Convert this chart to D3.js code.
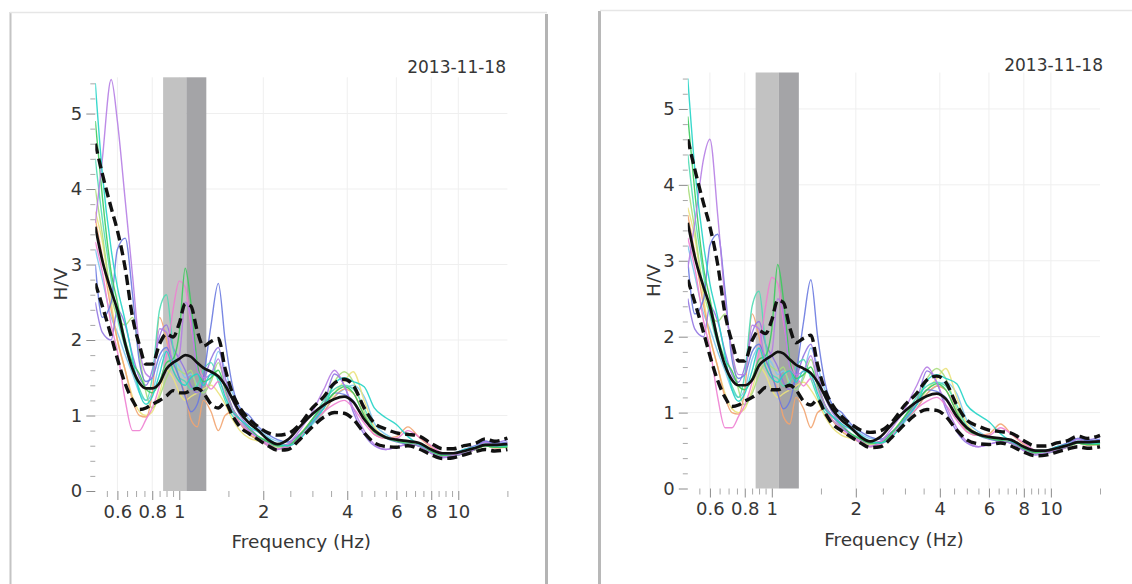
<!DOCTYPE html>
<html lang="en">
<head>
<meta charset="UTF-8">
<title>H/V curves 2013-11-18</title>
<script src="https://cdn.jsdelivr.net/npm/d3@7"></script>
<style>
  html, body { margin: 0; padding: 0; background: #fff; }
  body { width: 1132px; height: 584px; overflow: hidden; }
  svg text { font-family: "DejaVu Sans", Verdana, sans-serif; fill: #363636; }
</style>
</head>
<body>
<svg id="chart" width="1132" height="584"></svg>
<script>
// frequency samples (Hz)
var freqHz = [0.5, 0.53, 0.57, 0.6, 0.64, 0.68, 0.72, 0.76, 0.8, 0.85,
  0.9, 0.95, 1.0, 1.05, 1.1, 1.16, 1.22, 1.3, 1.38, 1.46,
  1.55, 1.65, 1.78, 1.92, 2.08, 2.25, 2.45, 2.7, 3.0, 3.3,
  3.6, 3.9, 4.2, 4.6, 5.0, 5.5, 6.0, 6.6, 7.2, 8.0,
  8.8, 9.6, 10.5, 11.5, 12.5, 13.5, 15];

// average H/V and +/- one standard deviation
var meanHV = [3.5, 3.05, 2.65, 2.4, 1.95, 1.62, 1.43, 1.36, 1.36, 1.43,
  1.62, 1.7, 1.75, 1.8, 1.78, 1.7, 1.63, 1.58, 1.52, 1.4,
  1.22, 1.04, 0.9, 0.8, 0.68, 0.62, 0.68, 0.85, 1.02, 1.14,
  1.22, 1.25, 1.18, 0.95, 0.8, 0.71, 0.68, 0.66, 0.64, 0.55,
  0.5, 0.5, 0.53, 0.57, 0.61, 0.61, 0.62];
var upperHV = [4.6, 4.2, 3.75, 3.45, 2.95, 2.3, 1.93, 1.68, 1.68, 1.95,
  2.08, 2.04, 2.22, 2.48, 2.45, 2.12, 1.92, 1.98, 2.02, 1.62,
  1.3, 1.1, 0.95, 0.85, 0.77, 0.74, 0.76, 0.88, 1.1, 1.25,
  1.43, 1.48, 1.4, 1.1, 0.9, 0.82, 0.77, 0.75, 0.73, 0.63,
  0.56, 0.56, 0.6, 0.63, 0.69, 0.66, 0.7];
var lowerHV = [2.75, 2.45, 2.05, 1.75, 1.42, 1.2, 1.08, 1.1, 1.15, 1.2,
  1.26, 1.33, 1.3, 1.3, 1.33, 1.36, 1.3, 1.15, 1.1, 1.17,
  1.0, 0.85, 0.76, 0.68, 0.6, 0.54, 0.55, 0.68, 0.85, 0.98,
  1.04, 1.03, 0.95, 0.77, 0.64, 0.59, 0.58, 0.6, 0.56, 0.48,
  0.43, 0.44, 0.48, 0.52, 0.55, 0.53, 0.55];

// individual windows
var winCyan = [5.4, 4.2, 3.2, 2.7, 2.25, 1.75, 1.3, 1.15, 1.25, 1.55,
  1.85, 1.6, 1.45, 1.4, 1.5, 1.55, 1.4, 1.55, 1.5, 1.25,
  1.05, 0.95, 0.85, 0.78, 0.7, 0.62, 0.6, 0.68, 0.9, 1.1,
  1.42, 1.5, 1.45, 1.38, 1.1, 0.97, 0.88, 0.72, 0.62, 0.55,
  0.5, 0.5, 0.55, 0.58, 0.62, 0.6, 0.6];
var winVioletLeft = [3.55, 4.4, 5.45, 4.9, 3.85, 2.85, 1.9, 1.55, 1.5, 2.15,
  2.1, 1.7, 1.8, 2.5, 2.3, 1.6, 1.5, 1.55, 1.75, 1.4,
  1.1, 0.95, 0.8, 0.7, 0.6, 0.55, 0.62, 0.8, 1.05, 1.35,
  1.6, 1.4, 1.1, 0.8, 0.62, 0.55, 0.58, 0.62, 0.6, 0.5,
  0.45, 0.47, 0.5, 0.55, 0.65, 0.6, 0.62];
var winVioletRight = [2.9, 3.5, 4.35, 4.6, 3.6, 2.5, 1.8, 1.5, 1.5, 2.15,
  2.1, 1.7, 1.8, 2.5, 2.3, 1.6, 1.5, 1.55, 1.75, 1.4,
  1.1, 0.95, 0.8, 0.7, 0.6, 0.55, 0.62, 0.8, 1.05, 1.35,
  1.6, 1.4, 1.1, 0.8, 0.62, 0.55, 0.58, 0.62, 0.6, 0.5,
  0.45, 0.47, 0.5, 0.55, 0.65, 0.6, 0.62];
var winAqua = [4.4, 3.6, 2.8, 2.3, 1.9, 1.6, 1.35, 1.2, 1.5, 2.4,
  2.6, 1.9, 1.5, 1.45, 1.35, 1.4, 1.6, 1.7, 1.45, 1.2,
  1.0, 0.9, 0.8, 0.72, 0.66, 0.6, 0.6, 0.72, 0.95, 1.2,
  1.35, 1.4, 1.35, 1.1, 0.82, 0.72, 0.68, 0.64, 0.6, 0.52,
  0.47, 0.48, 0.52, 0.56, 0.6, 0.58, 0.6];
var winGreen = [4.9, 3.9, 2.9, 2.5, 2.0, 1.7, 1.55, 1.35, 1.3, 1.45,
  1.7, 1.75, 2.1, 2.95, 2.5, 1.7, 1.45, 1.5, 1.6, 1.35,
  1.1, 0.95, 0.82, 0.72, 0.65, 0.6, 0.6, 0.74, 0.95, 1.15,
  1.3, 1.38, 1.3, 1.0, 0.78, 0.7, 0.66, 0.63, 0.6, 0.52,
  0.47, 0.47, 0.5, 0.55, 0.6, 0.58, 0.58];
var winPink = [3.3, 2.9, 2.2, 1.85, 1.2, 0.8, 0.8, 0.95, 1.1, 1.4,
  1.8, 2.4, 2.78, 2.7, 2.2, 1.7, 1.5, 1.35, 1.45, 1.3,
  1.05, 0.9, 0.78, 0.7, 0.62, 0.56, 0.58, 0.7, 0.9, 1.05,
  1.15, 1.2, 1.1, 0.9, 0.75, 0.7, 0.7, 0.8, 0.72, 0.6,
  0.5, 0.48, 0.5, 0.55, 0.62, 0.6, 0.64];
var winBlue = [3.0, 2.3, 2.5, 3.2, 3.35, 2.6, 1.7, 1.45, 1.5, 1.8,
  1.9, 1.7, 1.5, 1.25, 1.05, 1.15, 1.5, 2.2, 2.75, 2.0,
  1.4, 1.1, 1.0, 0.85, 0.75, 0.68, 0.65, 0.75, 0.92, 1.1,
  1.3, 1.28, 1.2, 0.95, 0.8, 0.7, 0.65, 0.62, 0.6, 0.52,
  0.48, 0.5, 0.55, 0.6, 0.66, 0.63, 0.65];
var winOrange = [3.6, 3.1, 2.4, 2.0, 1.6, 1.2, 1.0, 0.98, 1.3, 2.3,
  2.0, 1.6, 1.45, 1.3, 0.95, 0.85, 1.2, 1.05, 0.8, 1.0,
  1.05, 0.9, 0.75, 0.68, 0.6, 0.55, 0.6, 0.7, 0.9, 1.05,
  1.25, 1.35, 1.3, 1.0, 0.75, 0.7, 0.72, 0.85, 0.72, 0.58,
  0.48, 0.47, 0.5, 0.55, 0.6, 0.57, 0.58];
var winLightGreen = [4.0, 3.4, 2.6, 2.3, 2.2, 2.3, 1.8, 1.3, 1.1, 1.25,
  1.5, 1.65, 1.6, 1.55, 1.6, 1.35, 1.3, 1.45, 1.7, 1.4,
  1.1, 0.9, 0.75, 0.68, 0.62, 0.58, 0.6, 0.72, 0.95, 1.15,
  1.45, 1.58, 1.45, 1.05, 0.8, 0.72, 0.68, 0.64, 0.6, 0.52,
  0.46, 0.47, 0.5, 0.55, 0.6, 0.58, 0.6];
var winYellow = [3.7, 3.3, 2.5, 2.0, 1.6, 1.25, 1.05, 1.0, 1.05, 1.3,
  1.6, 1.5, 1.3, 1.2, 1.25, 1.3, 1.35, 1.4, 1.3, 1.15,
  0.95, 0.8, 0.7, 0.66, 0.62, 0.6, 0.62, 0.75, 0.95, 1.1,
  1.3, 1.45, 1.58, 1.2, 0.85, 0.72, 0.68, 0.65, 0.6, 0.52,
  0.46, 0.47, 0.5, 0.55, 0.6, 0.58, 0.6];
var winPurple = [2.5, 2.1, 2.0, 2.4, 2.2, 1.8, 1.5, 1.4, 1.6, 2.05,
  2.2, 1.9, 1.75, 1.6, 1.4, 1.3, 1.45, 1.75, 1.9, 1.5,
  1.2, 1.0, 0.85, 0.72, 0.64, 0.6, 0.62, 0.72, 0.95, 1.15,
  1.55, 1.4, 1.05, 0.75, 0.6, 0.55, 0.58, 0.62, 0.6, 0.5,
  0.44, 0.46, 0.5, 0.56, 0.66, 0.64, 0.68];
var winLightBlue = [3.2, 2.8, 2.3, 2.1, 1.8, 1.55, 1.3, 1.2, 1.3, 1.7,
  1.85, 1.75, 1.65, 1.5, 1.55, 1.4, 1.3, 1.5, 1.85, 1.6,
  1.3, 1.1, 0.95, 0.82, 0.72, 0.66, 0.65, 0.7, 0.88, 1.05,
  1.25, 1.35, 1.4, 1.25, 0.9, 0.75, 0.68, 0.65, 0.62, 0.53,
  0.48, 0.5, 0.54, 0.58, 0.64, 0.6, 0.62];

// peak frequency band: f0 - sigma, f0, f0 + sigma
var peakBand = [0.875, 1.06, 1.25];

var dateLabel = "2013-11-18";
var xMajorTicks = [0.6, 0.8, 1, 2, 4, 6, 8, 10];
var xMinorTicks = [0.55, 0.65, 0.7, 0.75, 0.85, 0.9, 0.95, 1.5, 2.5, 3, 3.5,
  4.5, 5, 5.5, 6.5, 7, 7.5, 8.5, 9, 9.5, 15];
var yMajorTicks = [0, 1, 2, 3, 4, 5];

var svg = d3.select("#chart");

// card outlines
var cards = svg.append("g");
cards.append("line").attr("x1", 10.5).attr("x2", 10.5).attr("y1", 12).attr("y2", 584)
  .attr("stroke", "#c4c4c4").attr("stroke-width", 2);
cards.append("line").attr("x1", 10).attr("x2", 547).attr("y1", 12.5).attr("y2", 12.5)
  .attr("stroke", "#e6e6e6").attr("stroke-width", 1.5);
cards.append("line").attr("x1", 546.5).attr("x2", 546.5).attr("y1", 14).attr("y2", 584)
  .attr("stroke", "#b4b4b4").attr("stroke-width", 3);
cards.append("line").attr("x1", 599.5).attr("x2", 599.5).attr("y1", 11).attr("y2", 584)
  .attr("stroke", "#b8b8b8").attr("stroke-width", 3);
cards.append("line").attr("x1", 600).attr("x2", 1132).attr("y1", 10.5).attr("y2", 10.5)
  .attr("stroke", "#e6e6e6").attr("stroke-width", 1.5);

var panels = [
  { id: "L", xRange: [95.3, 507.4], yRange: [491, 77.3], dateX: 506, dateY: 73, violet: winVioletLeft },
  { id: "R", xRange: [687.8, 1100], yRange: [488.5, 72.5], dateX: 1103, dateY: 71, violet: winVioletRight }
];

panels.forEach(function(p) {
  var x = d3.scaleLog().domain([0.5, 15]).range(p.xRange);
  var y = d3.scaleLinear().domain([0, 5.48]).range(p.yRange);
  var g = svg.append("g");

  var windows = [
    { v: winLightBlue, c: "#7ec8ee" },
    { v: winYellow, c: "#ebe27c" },
    { v: winLightGreen, c: "#aadd7c" },
    { v: winOrange, c: "#f2a470" },
    { v: winPurple, c: "#9276e2" },
    { v: winAqua, c: "#4fdcb4" },
    { v: winPink, c: "#ee80d2" },
    { v: winBlue, c: "#6a7ae0" },
    { v: winGreen, c: "#3ccb5c" },
    { v: p.violet, c: "#b67ee4" },
    { v: winCyan, c: "#22d4c6" }
  ];

  // grid
  g.selectAll(".hg").data(yMajorTicks.slice(1)).join("line")
    .attr("x1", p.xRange[0]).attr("x2", p.xRange[1])
    .attr("y1", function(d) { return y(d); }).attr("y2", function(d) { return y(d); })
    .attr("stroke", "#efefef");
  g.selectAll(".vg").data(xMajorTicks).join("line")
    .attr("x1", function(d) { return x(d); }).attr("x2", function(d) { return x(d); })
    .attr("y1", p.yRange[0]).attr("y2", p.yRange[1])
    .attr("stroke", "#efefef");

  // peak frequency band
  g.append("rect").attr("x", x(peakBand[0])).attr("width", x(peakBand[1]) - x(peakBand[0]))
    .attr("y", p.yRange[1]).attr("height", p.yRange[0] - p.yRange[1]).attr("fill", "#c2c2c2");
  g.append("rect").attr("x", x(peakBand[1])).attr("width", x(peakBand[2]) - x(peakBand[1]))
    .attr("y", p.yRange[1]).attr("height", p.yRange[0] - p.yRange[1]).attr("fill", "#a4a4a7");

  // axes
  var yAx = g.append("g").attr("transform", "translate(" + p.xRange[0] + ",0)").attr("color", "#8a8a8a")
    .call(d3.axisLeft(y).tickValues(yMajorTicks).tickSize(9).tickPadding(4).tickFormat(d3.format("d")));
  var yMinor = d3.range(1, 28).map(function(i) { return i * 0.2; })
    .filter(function(v) { return Math.abs(v - Math.round(v)) > 1e-6; });
  var yAx2 = g.append("g").attr("transform", "translate(" + p.xRange[0] + ",0)").attr("color", "#a8a8a8")
    .call(d3.axisLeft(y).tickValues(yMinor).tickSize(5).tickFormat(""));
  var xAx = g.append("g").attr("transform", "translate(0," + p.yRange[0] + ")").attr("color", "#8a8a8a")
    .call(d3.axisBottom(x).tickValues(xMajorTicks).tickSize(9).tickPadding(5).tickFormat(function(d) { return d; }));
  var xAx2 = g.append("g").attr("transform", "translate(0," + p.yRange[0] + ")").attr("color", "#a8a8a8")
    .call(d3.axisBottom(x).tickValues(xMinorTicks).tickSize(6).tickFormat(""));
  [yAx, yAx2, xAx, xAx2].forEach(function(a) {
    a.select(".domain").remove();
    a.selectAll("text").attr("font-size", 18).attr("font-family", null).attr("fill", "#363636");
  });

  // titles
  g.append("text").attr("x", (p.xRange[0] + p.xRange[1]) / 2).attr("y", p.yRange[0] + 57)
    .attr("text-anchor", "middle").attr("font-size", 18.5).text("Frequency (Hz)");
  g.append("text").attr("transform", "translate(" + (p.xRange[0] - 28) + "," + ((p.yRange[0] + p.yRange[1]) / 2) + ") rotate(-90)")
    .attr("text-anchor", "middle").attr("font-size", 18.5).text("H/V");
  g.append("text").attr("x", p.dateX).attr("y", p.dateY).attr("text-anchor", "end")
    .attr("font-size", 17).text(dateLabel);

  // curves
  g.append("clipPath").attr("id", "clip" + p.id).append("rect")
    .attr("x", p.xRange[0]).attr("y", p.yRange[1] - 2)
    .attr("width", p.xRange[1] - p.xRange[0] + 2).attr("height", p.yRange[0] - p.yRange[1] + 2);
  var plot = g.append("g").attr("clip-path", "url(#clip" + p.id + ")");

  var line = d3.line()
    .x(function(d, i) { return x(freqHz[i]); })
    .y(function(d) { return y(d); })
    .curve(d3.curveMonotoneX);

  plot.selectAll(".win").data(windows).join("path")
    .attr("fill", "none").attr("stroke", function(d) { return d.c; })
    .attr("stroke-width", 1.4).attr("stroke-opacity", 0.9)
    .attr("d", function(d) { return line(d.v); });

  plot.append("path").attr("d", line(meanHV)).attr("fill", "none")
    .attr("stroke", "#111").attr("stroke-width", 2.7);
  [upperHV, lowerHV].forEach(function(s) {
    plot.append("path").attr("d", line(s)).attr("fill", "none")
      .attr("stroke", "#111").attr("stroke-width", 3.4).attr("stroke-dasharray", "10,5");
  });
});
</script>
</body>
</html>
